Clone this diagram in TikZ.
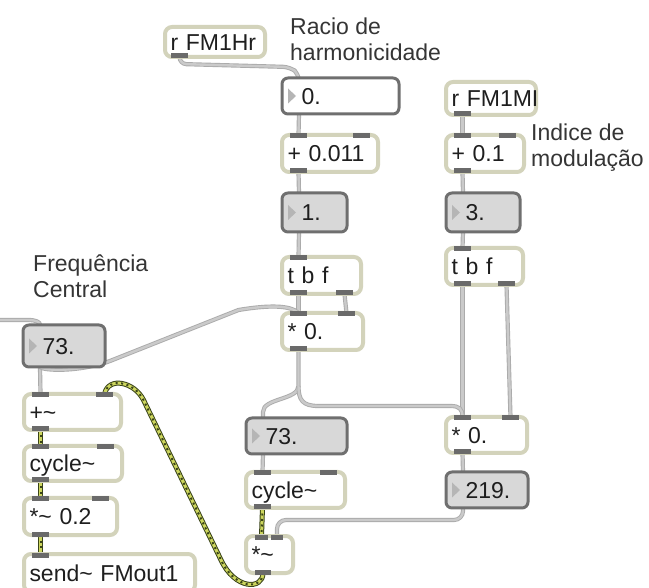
\documentclass[tikz,border=0pt]{standalone}
\usepackage{fontspec}
\setmainfont{Liberation Sans}
\usetikzlibrary{calc}

\definecolor{objedge}{HTML}{D3D3BB}
\definecolor{numedge}{HTML}{6F6F6F}
\definecolor{numfill}{HTML}{D8D8D8}
\definecolor{portc}{HTML}{6A6A6A}
\definecolor{cordout}{HTML}{ABABAB}
\definecolor{cordin}{HTML}{CACACA}
\definecolor{sigedge}{HTML}{3A4418}
\definecolor{sigfill}{HTML}{CDD65E}
\definecolor{txt}{HTML}{1E1E1E}
\definecolor{tri}{HTML}{B5B5B5}

\pgfdeclarelayer{bg}
\pgfdeclarelayer{cords}
\pgfsetlayers{bg,cords,main}

\newcommand\tld{\char"007E\relax}

% box: style, name, x1, y1, x2, y2, text (pixel-like units, y downwards)
\newcommand\mxbox[7]{%
  \pgfmathsetmacro\mxw{#5-#3}%
  \pgfmathsetmacro\mxh{#6-#4}%
  \pgfmathsetmacro\mxt{#5-#3-11}%
  \node[#1, anchor=north west, minimum width=\mxw pt, minimum height=\mxh pt,
        text width=\mxt pt] (#2) at (#3,#4) {\mbox{#7}};}

% inlets / outlets: node, port name, offset, width
\newcommand\inport[4]{%
  \fill[portc] ($(#1.north west)+(#3,-1.5)$) rectangle ($(#1.north west)+(#3+#4,3.5)$);
  \coordinate (#1-#2) at ($(#1.north west)+(#3+#4/2,0)$);}
\newcommand\inportR[4]{%
  \fill[portc] ($(#1.north east)+(-#3,-1.5)$) rectangle ($(#1.north east)+(-#3-#4,3.5)$);
  \coordinate (#1-#2) at ($(#1.north east)+(-#3-#4/2,0)$);}
\newcommand\outport[4]{%
  \fill[portc] ($(#1.south west)+(#3,1.5)$) rectangle ($(#1.south west)+(#3+#4,-3.5)$);
  \coordinate (#1-#2) at ($(#1.south west)+(#3+#4/2,0)$);}
\newcommand\outportR[4]{%
  \fill[portc] ($(#1.south east)+(-#3,1.5)$) rectangle ($(#1.south east)+(-#3-#4,-3.5)$);
  \coordinate (#1-#2) at ($(#1.south east)+(-#3-#4/2,0)$);}

% number box: triangle and hidden ports
\newcommand\numports[1]{%
  \fill[tri] ($(#1.west)+(6,-7.5)$) -- ($(#1.west)+(14,0)$) -- ($(#1.west)+(6,7.5)$) -- cycle;
  \coordinate (#1-i) at ($(#1.north west)+(17,0)$);
  \coordinate (#1-o) at ($(#1.south west)+(17,0)$);}

\tikzset{
  objbox/.style={draw=objedge, line width=4pt, fill=white, rounded corners=7pt,
    inner xsep=5.5pt, inner ysep=0pt, outer sep=0pt,
    text height=16.5pt, text depth=0pt, text=txt},
  numbox/.style={draw=numedge, line width=3pt, fill=numfill, rounded corners=6pt,
    inner xsep=5.5pt, inner ysep=0pt, outer sep=0pt,
    text height=16.5pt, text depth=0pt, text=txt},
  numwhite/.style={numbox, fill=white},
  note/.style={anchor=north west, inner sep=0pt, align=left, text=txt!90},
  cord/.style={draw=cordout, double=cordin, double distance=2.4pt, line width=0.9pt},
  sigcord/.style={draw=sigfill, line width=3pt,
    preaction={draw=sigedge, line width=5pt},
    postaction={draw=sigedge, line width=2pt, dash pattern=on 2pt off 3.5pt}},
}

\begin{document}
\begin{tikzpicture}[x=1pt, y=-1pt,
  every node/.style={font=\fontsize{23}{26}\selectfont}]
\useasboundingbox (0,0) rectangle (649,588);
\begin{pgfonlayer}{bg}
  \fill[white] (0,0) rectangle (649,588);
\end{pgfonlayer}

% harmonicity chain
\mxbox{objbox}{rHr}{165}{27}{265}{57}{r FM1Hr}
\mxbox{numwhite}{num0}{282}{78}{399}{114}{\hspace*{14pt}0.}
\mxbox{objbox}{addA}{282}{135}{378}{172}{+ 0.011}
\mxbox{numbox}{num1}{282}{193}{347}{232}{\hspace*{14pt}1.}
\mxbox{objbox}{tbfA}{282}{257}{361}{294}{t b f}
\mxbox{objbox}{mulA}{282}{313}{363}{350}{* 0.}

% modulation index chain
\mxbox{objbox}{rMI}{446}{82}{536}{115}{r FM1MI}
\mxbox{objbox}{addB}{446}{135}{524}{172}{+ 0.1}
\mxbox{numbox}{num3}{446}{193}{520}{232}{\hspace*{14pt}3.}
\mxbox{objbox}{tbfB}{446}{248}{523}{285}{t b f}
\mxbox{objbox}{mulB}{446}{417}{527}{453}{* 0.}
\mxbox{numbox}{num219}{446}{472}{528}{508}{\hspace*{14pt}219.}

% carrier
\mxbox{numbox}{numF}{23}{325}{105}{367}{\hspace*{14pt}73.}
\mxbox{objbox}{addS}{24}{394}{121}{430}{+\tld}
\mxbox{objbox}{cycA}{24}{446}{122}{481}{cycle\tld}
\mxbox{objbox}{mulC}{24}{498}{117}{535}{*\tld\ 0.2}
\mxbox{objbox}{sendS}{24}{554}{195}{592}{send\tld\ FMout1}

% modulator
\mxbox{numbox}{numM}{246}{418}{347}{454}{\hspace*{14pt}73.}
\mxbox{objbox}{cycB}{246}{472}{345}{508}{cycle\tld}
\mxbox{objbox}{mulS}{246}{536}{293}{573}{*\tld}

% ports
\outport{rHr}{o}{6}{17}
\numports{num0}
\inport{addA}{i1}{8}{17}\inportR{addA}{i2}{8}{17}\outport{addA}{o}{8}{17}
\numports{num1}
\inport{tbfA}{i}{8}{17}\outport{tbfA}{o1}{8}{17}\outportR{tbfA}{o2}{8}{17}
\inport{mulA}{i1}{8}{17}\inportR{mulA}{i2}{8}{17}\outport{mulA}{o}{8}{17}

\outport{rMI}{o}{8}{17}
\inport{addB}{i1}{8}{17}\inportR{addB}{i2}{8}{17}\outport{addB}{o}{8}{17}
\numports{num3}
\inport{tbfB}{i}{8}{17}\outport{tbfB}{o1}{8}{17}\outportR{tbfB}{o2}{8}{17}
\inport{mulB}{i1}{8}{17}\inportR{mulB}{i2}{8}{17}\outport{mulB}{o}{8}{17}
\numports{num219}

\numports{numF}
\inport{addS}{i1}{8}{17}\inportR{addS}{i2}{8}{17}\outport{addS}{o}{8}{17}
\inport{cycA}{i1}{8}{17}\inportR{cycA}{i2}{8}{17}\outport{cycA}{o}{8}{17}
\inport{mulC}{i1}{8}{17}\inportR{mulC}{i2}{8}{17}\outport{mulC}{o}{8}{17}
\inport{sendS}{i1}{8}{17}

\numports{numM}
\inport{cycB}{i1}{8}{17}\inportR{cycB}{i2}{8}{17}\outport{cycB}{o}{8}{17}
\inport{mulS}{i1}{9}{13}\inportR{mulS}{i2}{10}{12}\outport{mulS}{o}{9}{16}

% comments
\node[note] (cmtA) at (290,18) {Racio de\\harmonicidade};
\node[note] (cmtB) at (531,124) {Indice de\\modulação};
\node[note] (cmtC) at (33,255) {Frequência\\Central};

\coordinate (inleft) at (-6,320);
\coordinate (fork) at ($(mulA-o)+(0,36)$);

\begin{pgfonlayer}{cords}
  % control cords
  \draw[cord, rounded corners=7pt] (rHr-o) -- ++(0,7) -- ($(num0-i)+(-9,-11)$)
       -- ($(num0-i)+(0,-4)$) -- (num0-i);
  \draw[cord] (num0-o) -- (addA-i1);
  \draw[cord] (addA-o) -- (num1-i);
  \draw[cord] (num1-o) -- (tbfA-i);
  \draw[cord] (tbfA-o1) -- (mulA-i1);
  \draw[cord] (tbfA-o2) -- (mulA-i2);
  \draw[cord] (rMI-o) -- (addB-i1);
  \draw[cord] (addB-o) -- (num3-i);
  \draw[cord] (num3-o) -- (tbfB-i);
  \draw[cord] (tbfB-o1) -- (mulB-i1);
  \draw[cord] (tbfB-o2) -- (mulB-i2);
  \draw[cord] (mulB-o) -- (num219-i);
  \draw[cord] (numF-o) -- (addS-i1);
  \draw[cord] (numM-o) -- (cycB-i1);
  \draw[cord] (inleft) -- ($(numF-i)+(-12,-5)$)
       .. controls ($(numF-i)+(-4,-5)$) and ($(numF-i)+(0,-3)$) .. (numF-i);
  \draw[cord] (numF-o) .. controls ($(numF-o)+(4,4)$) and ($(numF-o)+(40,5)$)
       .. ($(numF-o)+(70,-6)$) -- ($(mulA-i1)+(-60,-3)$)
       .. controls ($(mulA-i1)+(-30,-8)$) and ($(mulA-i1)+(-8,-8)$) .. (mulA-i1);
  \draw[cord] (mulA-o) -- (fork)
       .. controls ($(fork)+(0,14)$) and ($(numM-i)+(0,-20)$) .. ($(numM-i)+(0,-6)$)
       -- (numM-i);
  \draw[cord] (fork) .. controls ($(fork)+(0,14)$) and ($(fork)+(4,20)$)
       .. ($(fork)+(20,20)$) -- ($(mulB-i1)+(-12,-11)$)
       .. controls ($(mulB-i1)+(-3,-11)$) and ($(mulB-i1)+(0,-8)$) .. (mulB-i1);
  \draw[cord, rounded corners=9pt] (num219-o) |- ($(mulS-i2)+(0,-16)$) -- (mulS-i2);
  % signal cords
  \draw[sigcord] (addS-o) -- (cycA-i1);
  \draw[sigcord] (cycA-o) -- (mulC-i1);
  \draw[sigcord] (mulC-o) -- (sendS-i1);
  \draw[sigcord] (cycB-o) -- (mulS-i1);
  \draw[sigcord] (mulS-o) .. controls ($(mulS-o)+(0,17)$) and ($(mulS-o)+(-28,17)$)
       .. ($(mulS-o)+(-42,-13)$) -- ($(addS-i2)+(39,6)$)
       .. controls ($(addS-i2)+(30,-12)$) and ($(addS-i2)+(4,-18)$) .. (addS-i2);
\end{pgfonlayer}
\end{tikzpicture}
\end{document}
